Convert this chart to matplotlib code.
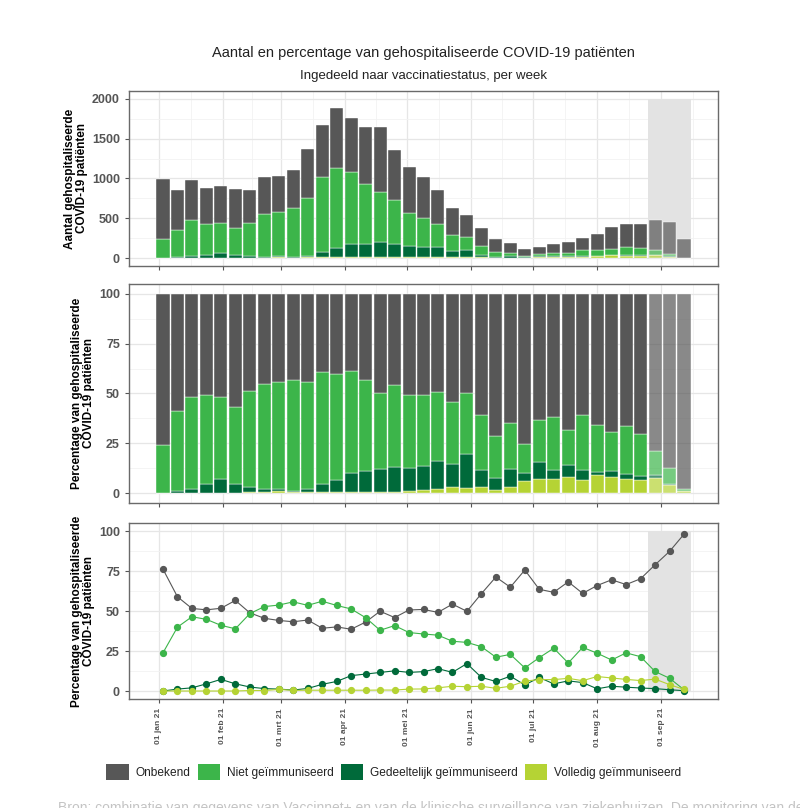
import numpy as np
import pandas as pd
import matplotlib
matplotlib.use('Agg')
import matplotlib.pyplot as plt
import matplotlib.dates as mdates
from matplotlib.patches import Patch
from matplotlib.colors import to_rgba

plt.rcParams['font.family'] = ['Liberation Sans', 'DejaVu Sans']

# weken (start van de week)
weeks = pd.date_range('2021-01-03', periods=37, freq='7D')

# totaal aantal gehospitaliseerde patienten per week
totaal = [989, 852, 977, 881, 902, 864, 856, 1023, 1035, 1111, 1365, 1670, 1887,
          1758, 1645, 1645, 1353, 1146, 1023, 852, 635, 539, 376, 242, 184, 109,
          134, 171, 205, 255, 301, 392, 426, 426, 484, 447, 242]

# percentages per vaccinatiestatus
pct_onbekend = [76.5, 59, 52, 51, 52, 56.8, 49, 45.5, 44.5, 43.5, 44.5, 39.5, 40.3,
                39, 43.5, 50.3, 46.3, 51, 51.8, 49.3, 55, 50, 61.5, 71.8, 65.2, 76,
                64, 62.3, 69, 61.5, 67, 70, 67, 71, 79.5, 87.5, 98.5]
pct_niet = [24, 40, 46.8, 45, 41.3, 39, 48.5, 52.8, 54.2, 56, 53.7, 56.5, 53.8,
            51.8, 46.3, 38.3, 41.2, 36.8, 36.2, 35, 31.5, 30.5, 28, 21.3, 23, 14.5,
            21, 27, 17.7, 27.5, 24, 19.5, 24, 21.7, 12.3, 8, 0.8]
pct_gedeeltelijk = [0, 1.2, 2, 4.5, 7.3, 4.5, 2.5, 1.5, 1.2, 0.6, 1.6, 4.2, 6,
                    9.7, 10.7, 11.7, 12.7, 11.7, 12.3, 14, 11.8, 17.2, 8.6, 6, 9.3, 3.8,
                    8.5, 4.5, 6.4, 5.3, 1.4, 3, 2.4, 1.9, 1.5, 0.8, 0.2]
pct_volledig = [0, 0, 0, 0, 0, 0, 0.3, 0.3, 1, 0.4, 0.5, 0.5, 0.5,
                0.5, 0.5, 0.6, 0.6, 1.2, 1.3, 2, 3, 2.7, 3, 1.7, 3, 6.2,
                7.2, 7.2, 8, 6.5, 9.2, 8.2, 7.3, 6.6, 7.5, 4, 1]

categories = ['Onbekend', 'Niet geïmmuniseerd', 'Gedeeltelijk geïmmuniseerd',
              'Volledig geïmmuniseerd']
colors = ['#575757', '#3cb54a', '#006a3a', '#b5d334']

month_ticks = pd.to_datetime(['2021-01-01', '2021-02-01', '2021-03-01', '2021-04-01',
                              '2021-05-01', '2021-06-01', '2021-07-01', '2021-08-01',
                              '2021-09-01'])
month_labels = ['01 jan 21', '01 feb 21', '01 mrt 21', '01 apr 21', '01 mei 21',
                '01 jun 21', '01 jul 21', '01 aug 21', '01 sep 21']
n_recent = 3   # laatste weken nog onvolledig (grijze zone)

x = mdates.date2num(weeks)
pct = np.array([pct_onbekend, pct_niet, pct_gedeeltelijk, pct_volledig])
pct = pct / pct.sum(axis=0) * 100
counts = pct * np.array(totaal) / 100

mt = mdates.date2num(month_ticks)
minor_x = list((mt[:-1] + mt[1:]) / 2) + [mt[-1] + 15.5]
lo, hi = x[0] - 3.5, x[-1] + 3.5
pad = 0.05 * (hi - lo)
shade_lo, shade_hi = x[-n_recent] - 3.5, x[-1] + 3.5


def style_axes(ax, ylim, yticks, yminor, ylabel, xlabels=False):
    ax.set_xlim(lo - pad, hi + pad)
    ax.set_ylim(*ylim)
    ax.set_xticks(mt)
    ax.set_xticks(minor_x, minor=True)
    ax.set_yticks(yticks)
    ax.set_yticks(yminor, minor=True)
    ax.grid(which='major', color='#e6e6e6', lw=0.9)
    ax.grid(which='minor', color='#f2f2f2', lw=0.6)
    ax.set_axisbelow(True)
    ax.tick_params(which='minor', length=0)
    ax.tick_params(which='major', length=3, color='#555555', width=0.8)
    ax.tick_params(axis='y', labelsize=9, labelcolor='#555555')
    for lab in ax.get_yticklabels():
        lab.set_fontweight('bold')
    if xlabels:
        ax.set_xticklabels(month_labels, rotation=90, fontsize=6, color='#555555',
                           fontweight='bold')
    else:
        ax.set_xticklabels([])
    for s in ax.spines.values():
        s.set_color('#6a6a6a')
        s.set_linewidth(1)
    ax.set_ylabel(ylabel, fontsize=8.5, fontweight='bold', labelpad=3, linespacing=1.0)


def faded(color):
    return [to_rgba(color, 0.7 if i >= len(x) - n_recent else 1.0) for i in range(len(x))]


fig = plt.figure(figsize=(8, 8.08), dpi=100)
ax1 = fig.add_axes([0.16125, 0.6708, 0.73625, 0.2166])
ax2 = fig.add_axes([0.16125, 0.3775, 0.73625, 0.2710])
ax3 = fig.add_axes([0.16125, 0.1349, 0.73625, 0.2178])

order = [3, 2, 1, 0]   # van onder naar boven: volledig, gedeeltelijk, niet, onbekend

# panel 1: aantallen
ax1.fill_between([shade_lo, shade_hi], 0, 2000, color='#e3e3e3', lw=0, zorder=1)
bottom = np.zeros(len(x))
for k in order:
    ax1.bar(x, counts[k], width=6.3, bottom=bottom, color=faded(colors[k]),
            edgecolor='white', lw=0.3, zorder=2)
    bottom += counts[k]
style_axes(ax1, (-100, 2100), [0, 500, 1000, 1500, 2000], [250, 750, 1250, 1750],
           'Aantal gehospitaliseerde\nCOVID-19 patiënten')

# panel 2: percentages gestapeld
bottom = np.zeros(len(x))
for k in order:
    ax2.bar(x, pct[k], width=6.3, bottom=bottom, color=faded(colors[k]),
            edgecolor='white', lw=0.3, zorder=2)
    bottom += pct[k]
style_axes(ax2, (-5, 105), [0, 25, 50, 75, 100], [12.5, 37.5, 62.5, 87.5],
           'Percentage van gehospitaliseerde\nCOVID-19 patiënten')

# panel 3: percentages als lijnen
ax3.fill_between([shade_lo, shade_hi], 0, 100, color='#e3e3e3', lw=0, zorder=1)
for k in range(4):
    ax3.plot(x, pct[k], color=colors[k], lw=0.8, marker='o', ms=4.2, zorder=3)
style_axes(ax3, (-5, 105), [0, 25, 50, 75, 100], [12.5, 37.5, 62.5, 87.5],
           'Percentage van gehospitaliseerde\nCOVID-19 patiënten', xlabels=True)

fig.text(0.529, 1 - 53 / 808, 'Aantal en percentage van gehospitaliseerde COVID-19 patiënten',
         ha='center', va='center', fontsize=10.5, color='#222222')
fig.text(0.529, 1 - 76 / 808, 'Ingedeeld naar vaccinatiestatus, per week',
         ha='center', va='center', fontsize=9.5, color='#222222')

handles = [Patch(facecolor=c, edgecolor='none') for c in colors]
fig.legend(handles, categories, loc='center', bbox_to_anchor=(394 / 800, 1 - 772 / 808),
           ncol=4, frameon=False, fontsize=8.6, handlelength=1.85, handleheight=1.68,
           handletextpad=0.6, columnspacing=0.6, labelcolor='#222222')

fig.text(58 / 800, -0.005,
         'Bron: combinatie van gegevens van Vaccinnet+ en van de klinische surveillance '
         'van ziekenhuizen. De monitoring van de vaccinatiestatus',
         ha='left', va='baseline', fontsize=10, color='#c4c4c4')

fig.savefig('out.png', dpi=100)
